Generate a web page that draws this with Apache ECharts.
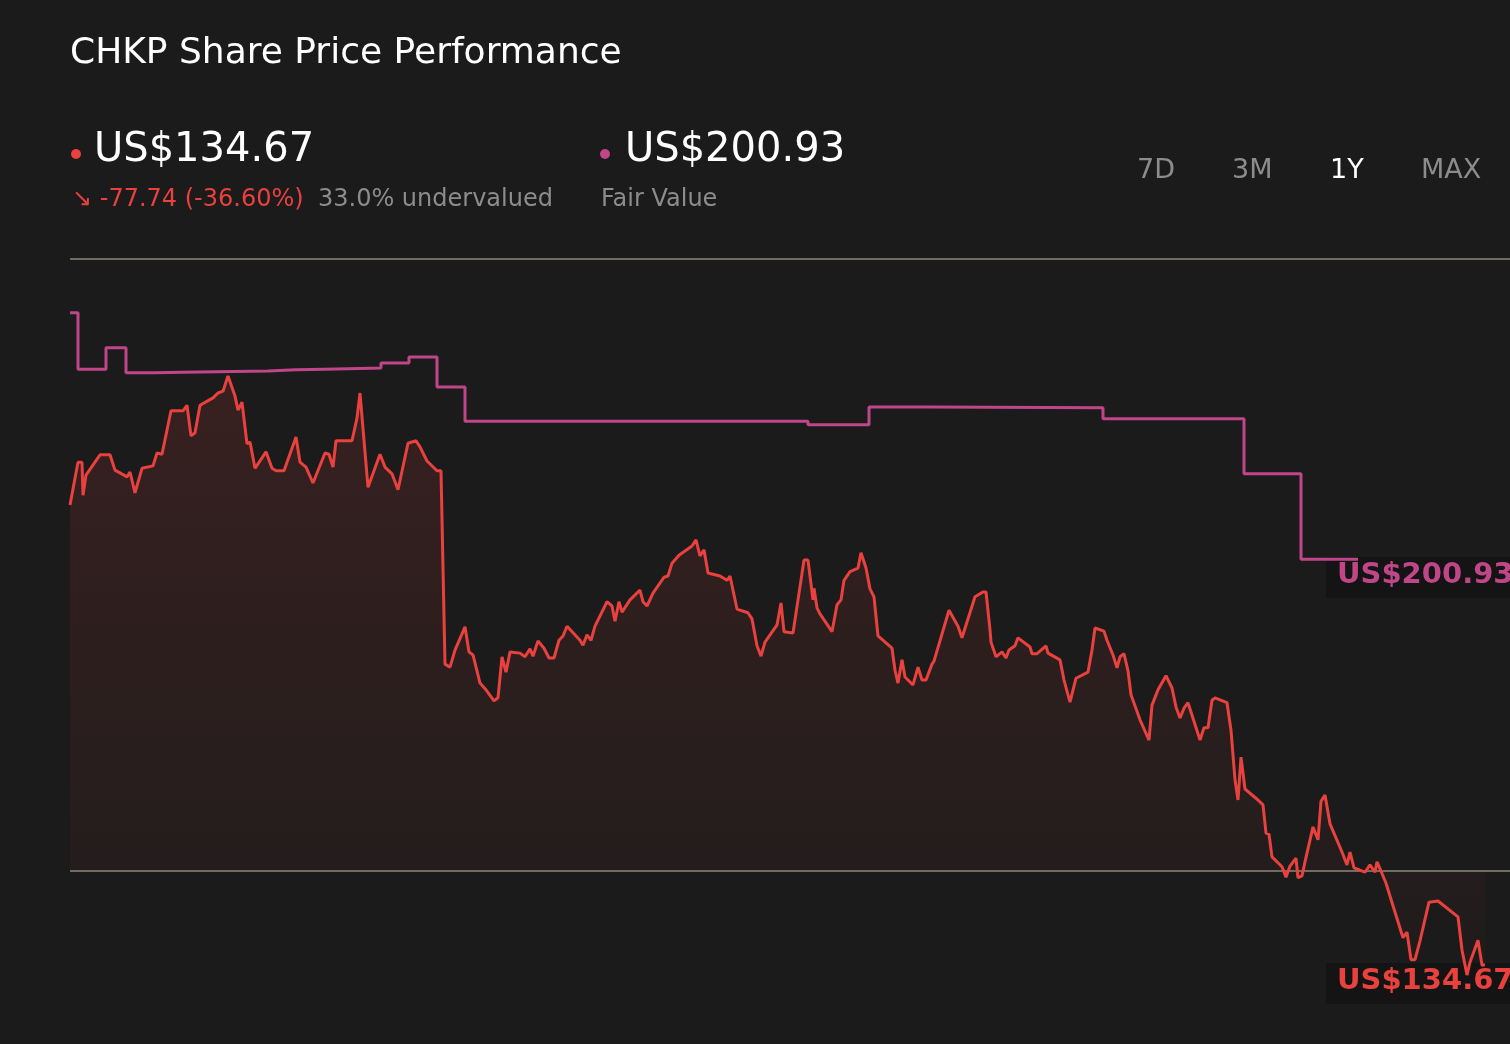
<!DOCTYPE html>
<html><head><meta charset="utf-8">
<script src="https://cdn.jsdelivr.net/npm/echarts@6/dist/echarts.min.js"></script>
<style>html,body{margin:0;padding:0;background:#1b1b1b;}#c{width:1510px;height:1044px;}</style>
</head><body><div id="c"></div>
<script>
const priceDays=[0,2,3,3.25,4,7.5,10,11.25,14.25,15,16.25,18,20.75,21.75,23,25.25,28.25,29.25,30.25,31.25,32.5,35.75,37,38.25,39.5,41.25,42,43,44.25,45,46.25,48,49,50.5,51.5,53.5,56.5,57.5,59,60.75,63.75,64.75,65.75,66.5,70.5,71.75,72.5,74.5,77.5,78.75,80.5,82,84.5,86.5,87.5,89.25,91.75,92.75,93.75,95,96.25,98.75,99.75,100.75,102.5,104,106,107,108,109,110,112.5,113.75,115,115.75,117,118.5,119.75,121,122.25,123.25,124.25,127.5,128.25,129.25,130.25,131.25,134.25,135.5,136.25,137.25,138,140,142.5,143.25,144.25,145.75,148.5,149.5,150.5,152.25,155.5,156.5,157.5,158.5,159.5,162.5,164.25,165,166.75,169.5,170.5,171.75,172.75,173.75,176.75,177.75,178.5,180.75,183.5,184.5,185.75,186,186.75,187.5,190.5,191.75,192.75,193.5,195,197,197.75,199,200,201,202,205.5,206.25,207,208,208.75,210.75,212,213,214,215.5,216,219.75,222,223,226.25,228.25,229,230,230.25,231.5,233,234,234.75,236.25,237,240,240.5,241.75,244,244.5,247.5,248.5,250,251.5,254.5,255.5,256.25,258.5,259.25,260.75,261.75,262.5,263.5,264.5,265.25,267.5,269.75,270.5,272,274,275.5,276.5,277.5,278.5,279.5,282.5,283.5,284.5,285.5,286.25,289.25,290.25,291.25,292,292.75,293.75,297,298.25,299,299.75,300.5,303,304,305,306.5,307,308,308.75,310.75,312,312.75,313.75,315,318,319.25,320,321,322.25,323.75,325,326.25,326.75,328,329,332,333.25,334.25,335.25,336.25,337.5,339.75,342,347,348,349.25,350,352,353,353.75,355];
const priceValues=[209.8,216.8,216.8,211.4,214.7,218.0,218.0,215.5,214.4,215.2,211.8,215.8,216.2,218.3,218.1,225.2,225.2,226.1,221.1,221.6,226.1,227.3,228.1,228.4,230.9,227.6,225.3,226.6,219.8,220.1,215.8,217.5,218.5,215.8,215.4,215.4,220.9,216.8,216.0,213.4,218.3,218.1,216.0,220.3,220.3,224.0,228.1,212.7,218.1,216.0,214.9,212.3,219.9,220.3,219.3,217.0,215.4,215.4,183.8,183.3,186.1,189.9,185.8,185.3,180.7,179.6,177.8,178.3,185.0,182.5,185.8,185.6,185.0,186.3,185.1,187.6,186.4,184.8,184.8,187.7,188.4,190.0,187.7,186.9,188.6,187.7,190.0,194.0,193.3,190.8,194.0,192.3,194.3,195.9,194.0,193.3,195.4,198.0,198.2,200.3,201.6,203.1,204.1,201.5,202.5,198.7,198.2,197.5,198.2,192.8,192.2,191.2,186.8,185.1,187.4,190.2,193.8,189.1,188.9,200.8,200.8,194.3,196.2,193.0,192.0,189.1,193.5,194.3,197.5,198.9,199.5,202.0,199.5,196.1,194.8,188.4,186.4,182.8,180.7,184.5,181.7,180.4,183.3,181.2,181.2,183.8,184.3,192.6,190.0,188.1,194.8,195.6,195.6,189.4,187.4,185.0,185.8,184.8,186.1,186.8,188.1,186.6,185.5,185.5,186.8,185.6,184.5,181.2,177.6,181.5,182.5,186.1,189.7,189.2,187.7,185.3,183.2,185.0,185.5,182.7,178.8,174.7,171.4,177.1,179.6,181.9,179.9,176.8,175.0,176.6,177.5,171.4,173.4,173.4,177.9,178.3,177.5,173.0,164.9,161.6,168.6,163.4,161.6,160.8,156.2,156.0,152.3,150.7,149.0,150.8,152.1,148.9,149.2,151.5,157.2,155.1,161.4,162.4,157.7,153.1,151.0,153.1,150.5,150.2,149.8,151.0,149.8,151.5,149.6,148.0,141.7,139.1,140.0,135.5,135.5,138.6,144.9,145.1,142.5,137.1,133.0,135.1,138.7,134.6,134.67];
const fairDays=[0,2,9,14,21.25,28.25,49.5,56.5,63.75,77.75,84.75,91.75,98.75,184.5,199.75,215.25,258.25,293.5,307.75,322];
const fairValues=[241.2,232.0,235.5,231.4,231.5,231.7,231.9,232.0,232.2,233.0,234.0,229.1,223.5,222.9,225.8,225.7,223.9,214.9,200.93,200.93];
const yTicks=[150,250];

const RED='#e8413e', PINK='#c0468a';
const chart=echarts.init(document.getElementById('c'));
const F='"DejaVu Sans", sans-serif';
chart.setOption({
  backgroundColor:'#1b1b1b',
  animation:false,
  grid:{left:70,right:0,top:259,height:612},
  xAxis:{type:'value',min:0,max:360,show:false},
  yAxis:{type:'value',min:yTicks[0],max:yTicks[1],interval:yTicks[1]-yTicks[0],
    axisLabel:{show:false},axisLine:{show:false},axisTick:{show:false},
    splitLine:{lineStyle:{color:'#8b8a76',width:1.5}}},
  series:[
    {type:'line',step:'end',data:fairDays.map((d,i)=>[d,fairValues[i]]),showSymbol:false,clip:false,
      lineStyle:{color:PINK,width:3}},
    {type:'line',data:priceDays.map((d,i)=>[d,priceValues[i]]),showSymbol:false,clip:false,
      lineStyle:{color:RED,width:3},
      areaStyle:{origin:'start',color:new echarts.graphic.LinearGradient(0,0,0,1,[{offset:0,color:'rgba(232,65,62,0.2)'},{offset:1,color:'rgba(232,65,62,0.03)'}])}}
  ],
  graphic:[
    {type:'text',left:70,top:36,style:{text:'CHKP Share Price Performance',fill:'#ffffff',font:'36px '+F}},
    {type:'circle',shape:{cx:76,cy:154,r:5},style:{fill:RED}},
    {type:'text',left:94,top:131,style:{text:'US$134.67',fill:'#ffffff',font:'40px '+F}},
    {type:'text',left:72,top:188,style:{text:'↘ -77.74 (-36.60%)',fill:RED,font:'24px '+F}},
    {type:'text',left:318,top:188,style:{text:'33.0% undervalued',fill:'#8c8c8c',font:'24px '+F}},
    {type:'circle',shape:{cx:605,cy:154,r:5},style:{fill:PINK}},
    {type:'text',left:625,top:131,style:{text:'US$200.93',fill:'#ffffff',font:'40px '+F}},
    {type:'text',left:601,top:188,style:{text:'Fair Value',fill:'#8c8c8c',font:'24px '+F}},
    {type:'text',left:1137,top:157,style:{text:'7D',fill:'#8c8c8c',font:'27px '+F}},
    {type:'text',left:1232,top:157,style:{text:'3M',fill:'#8c8c8c',font:'27px '+F}},
    {type:'text',left:1330,top:157,style:{text:'1Y',fill:'#ffffff',font:'27px '+F}},
    {type:'text',left:1421,top:157,style:{text:'MAX',fill:'#8c8c8c',font:'27px '+F}},
    {type:'rect',shape:{x:1326,y:557,width:184,height:41},style:{fill:'#141414'}},
    {type:'text',left:1337,top:561,style:{text:'US$200.93',fill:PINK,font:'bold 29px '+F}},
    {type:'rect',shape:{x:1326,y:963,width:184,height:41},style:{fill:'#141414'}},
    {type:'text',left:1337,top:967,style:{text:'US$134.67',fill:RED,font:'bold 29px '+F}}
  ]
});
</script></body></html>
